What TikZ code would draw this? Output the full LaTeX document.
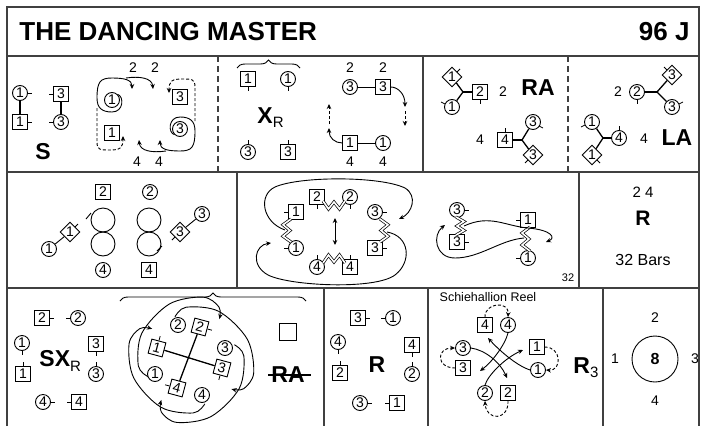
\documentclass[tikz,border=0pt]{standalone}
\usepackage{fontspec}
\setmainfont{Liberation Sans}
\usetikzlibrary{shapes.geometric,arrows.meta,decorations.pathreplacing,calc}
\newcommand\dfont{\fontsize{14}{14}\selectfont}
\newcommand\bfont{\fontsize{23}{23}\selectfont\bfseries}
\newcommand\subf{\fontsize{15}{15}\selectfont\mdseries}
\newcommand\mytick[2]{\draw[tk] (#1) -- ++(#2);}
\newcommand\hlinkk[4]{\draw[link] (#1,#3) -- ({#1+0.25*(#2-#1)},{#3+#4*8}) -- ({(#1+#2)/2},{#3+#4*1}) -- ({#1+0.75*(#2-#1)},{#3+#4*8}) -- (#2,#3);}
\newcommand\vlinkk[4]{\draw[link] (#3,#1) -- ({#3+#4*8},{#1+0.25*(#2-#1)}) -- ({#3+#4*1},{(#1+#2)/2}) -- ({#3+#4*8},{#1+0.75*(#2-#1)}) -- (#3,#2);}
\begin{document}
\begin{tikzpicture}[x=1pt,y=-1pt,line width=0.9pt,
  every node/.style={inner sep=0pt},
  pc/.style={circle,draw,minimum size=15pt,font=\dfont},
  ps/.style={rectangle,draw,minimum size=14.5pt,font=\dfont},
  pd/.style={diamond,draw,minimum size=20pt,font=\dfont},
  lbl/.style={font=\dfont},
  big/.style={font=\bfont},
  tk/.style={line width=0.8pt},
  jl/.style={line width=1.3pt},
  fr/.style={line width=1.6pt,draw=black!75},
  frd/.style={fr,dash pattern=on 6pt off 4pt},
  arr/.style={-{Stealth[length=5pt,width=4.5pt]}},
  darr/.style={arr,dash pattern=on 3pt off 2pt},
  link/.style={double,double distance=1.6pt,line width=0.7pt},
  brc/.style={decorate,decoration={brace,amplitude=8pt}},
]
\useasboundingbox (0,0) rectangle (701,426);
% frame
\draw[fr] (7,426) -- (7,7) -- (699,7) -- (699,426);
\draw[fr] (7,56) -- (699,56);
\draw[fr] (7,172) -- (699,172);
\draw[fr] (7,288) -- (699,288);
\draw[frd] (218,56) -- (218,172);
\draw[fr] (423,56) -- (423,172);
\draw[frd] (568,56) -- (568,172);
\draw[fr] (237,172) -- (237,288);
\draw[fr] (579,172) -- (579,288);
\draw[fr] (324,288) -- (324,426);
\draw[fr] (428,288) -- (428,426);
\draw[fr] (603,288) -- (603,426);
% title
\node[anchor=west,font=\fontsize{26}{26}\selectfont\bfseries] (title) at (19,32) {THE DANCING MASTER};
\node[anchor=east,font=\fontsize{26}{26}\selectfont\bfseries] (code) at (690,32) {96 J};

% ===== Row 1, cell 1 =====
\node[pc] (a1c) at (20,93) {1}; \mytick{a1c.east}{4,0}
\node[ps] (a3s) at (61,94) {3}; \mytick{a3s.west}{-4,0}
\node[ps] (a1s) at (20,122) {1}; \mytick{a1s.east}{4,0}
\node[pc] (a3c) at (61,122) {3}; \mytick{a3c.west}{-4,0}
\draw[jl] (a1c) -- (a1s);
\draw[jl] (a3s) -- (a3c);
\node[big] (lS) at (43,152) {S};

\node[lbl] (t2a) at (133,68) {2};
\node[lbl] (t2b) at (155,68) {2};
\node[lbl] (t4a) at (137,162) {4};
\node[lbl] (t4b) at (159,162) {4};
\node[pc] (b1c) at (112,100) {1};
\node[ps] (b1s) at (112,133) {1};
\node[pc] (b3c) at (180,129) {3};
\node[ps] (b3s) at (180,97) {3};
\draw[arr] (b1c.north east) .. controls (124,96) and (124,112) .. (112,112) .. controls (102,112) and (97,108) .. (97,98) .. controls (97,82) and (100,78) .. (112,78) .. controls (125,78) and (132,80) .. (132,89);
\draw[arr] (126,78) .. controls (140,76) and (152,78) .. (153,89);
\draw[darr] (97,108) -- (97,142) .. controls (97,150) and (100,150) .. (110,150) .. controls (120,150) and (123,148) .. (123,136);
\draw[arr] (b3c.south west) .. controls (168,133) and (168,117) .. (180,117) .. controls (190,117) and (195,121) .. (195,131) .. controls (195,147) and (192,151) .. (180,151) .. controls (167,151) and (160,149) .. (160,140);
\draw[arr] (166,151) .. controls (152,153) and (140,151) .. (139,140);
\draw[darr] (195,121) -- (195,87) .. controls (195,79) and (192,79) .. (182,79) .. controls (172,79) and (169,81) .. (169,93);

% ===== Row 1, cell 2 =====
\draw[brc] (237,68) -- (300,68);
\node[ps] (c1s) at (248,79) {1}; \mytick{c1s.south}{0,4}
\node[pc] (c1c) at (288,79) {1}; \mytick{c1c.south}{0,4}
\node[anchor=base west] (xr) at (257,123) {\bfont X\raisebox{-4pt}{\subf R}};
\node[pc] (c3c) at (248,152) {3}; \mytick{c3c.north}{0,-4}
\node[ps] (c3s) at (288,152) {3}; \mytick{c3s.north}{0,-4}

\node[lbl] (u2a) at (350,68) {2};
\node[lbl] (u2b) at (383,68) {2};
\node[pc] (d3c) at (350,87) {3};
\node[ps] (d3s) at (383,87) {3};
\draw (d3c) -- (d3s);
\draw[arr] (d3s.east) .. controls (398,87) and (405,94) .. (405,107);
\draw[darr] (405,111) -- (405,126);
\node[ps] (d1s) at (350,143) {1};
\node[pc] (d1c) at (383,143) {1};
\draw (d1s) -- (d1c);
\draw[arr] (d1s.west) .. controls (335,143) and (329,138) .. (329,128);
\draw[darr] (329,124) -- (329,104);
\node[lbl] (u4a) at (350,162) {4};
\node[lbl] (u4b) at (383,162) {4};

% ===== Row 1, cell 3 (RA) =====
\node[pd] (g1d) at (452,77) {1}; \draw[tk] ($(g1d.center)+(5,-5)$) -- ++(3,-3);
\node[pc] (g1c) at (452,107) {1}; \draw[tk] ($(g1c.center)+(-7,-3)$) -- ++(-4,-2);
\coordinate (j1) at (463,92);
\node[ps] (g2s) at (480,92) {2}; \mytick{g2s.south}{0,4}
\draw[jl] (g1d) -- (j1) -- (g1c);
\draw[jl] (j1) -- (g2s);
\node[lbl] (v2) at (503,92) {2};
\node[big] (RA) at (538,88) {RA};
\node[lbl] (v4) at (480,140) {4};
\node[ps] (g4s) at (505,140) {4}; \mytick{g4s.north}{0,-4}
\coordinate (j2) at (522,140);
\node[pc] (g3c) at (533,122) {3}; \draw[tk] ($(g3c.center)+(6,4)$) -- ++(4,2);
\node[pd] (g3d) at (533,155) {3}; \draw[tk] ($(g3d.center)+(-5,5)$) -- ++(-3,3);
\draw[jl] (g4s) -- (j2);
\draw[jl] (g3c) -- (j2) -- (g3d);

% ===== Row 1, cell 4 (LA) =====
\node[lbl] (w2) at (618,92) {2};
\node[pc] (h2c) at (637,92) {2}; \mytick{h2c.south}{0,4}
\coordinate (j3) at (657,92);
\node[pd] (h3d) at (672,75) {3}; \draw[tk] ($(h3d.center)+(-5,-5)$) -- ++(-3,-3);
\node[pc] (h3c) at (672,107) {3}; \draw[tk] ($(h3c.center)+(7,-3)$) -- ++(4,-2);
\draw[jl] (h2c) -- (j3);
\draw[jl] (h3d) -- (j3) -- (h3c);
\node[pc] (h1c) at (592,122) {1}; \draw[tk] ($(h1c.center)+(-7,3)$) -- ++(-4,2);
\node[pd] (h1d) at (592,155) {1}; \draw[tk] ($(h1d.center)+(5,5)$) -- ++(3,3);
\coordinate (j4) at (603,138);
\node[pc] (h4c) at (619,138) {4}; \mytick{h4c.north}{0,-4}
\draw[jl] (h1c) -- (j4) -- (h1d);
\draw[jl] (j4) -- (h4c);
\node[lbl] (w4) at (644,139) {4};
\node[big] (LA) at (677,138) {LA};

% ===== Row 2, cell 1 =====
\node[ps] (k2s) at (103,192) {2};
\node[pc] (k2c) at (150,192) {2};
\draw (103,220) circle (12);
\draw (103,244) circle (12);
\draw (149,220) circle (12);
\draw (149,244) circle (12);
\draw (86,219) -- (91,213);
\draw (157,251) -- (162,246);
\node[pd] (k1d) at (70,232) {1}; \draw[tk] ($(k1d.center)+(5,-5)$) -- ++(3,-3);
\node[pc] (k1c) at (49,249) {1};
\draw (k1d) -- (k1c);
\node[pd] (k3d) at (180,232) {3}; \draw[tk] ($(k3d.center)+(-5,5)$) -- ++(-3,3);
\node[pc] (k3c) at (202,214) {3};
\draw (k3d) -- (k3c);
\node[pc] (k4c) at (103,270) {4};
\node[ps] (k4s) at (149,270) {4};

% ===== Row 2, cell 2 =====
\node[ps] (n2s) at (317,197) {2}; \mytick{n2s.south}{0,4}
\node[pc] (n2c) at (350,197) {2}; \mytick{n2c.south}{0,4}
\node[ps] (n1s) at (296,212) {1}; \mytick{n1s.west}{-4,0}
\node[pc] (n1c) at (296,248) {1}; \mytick{n1c.west}{-4,0}
\node[pc] (n3c) at (375,212) {3}; \mytick{n3c.east}{4,0}
\node[ps] (n3s) at (375,248) {3}; \mytick{n3s.east}{4,0}
\node[pc] (n4c) at (317,267) {4}; \mytick{n4c.north}{0,-4}
\node[ps] (n4s) at (350,267) {4}; \mytick{n4s.north}{0,-4}
\hlinkk{323}{345}{201}{1}
\hlinkk{323}{345}{263}{-1}
\vlinkk{219}{242}{291}{-1}
\vlinkk{219}{242}{380}{1}
\coordinate (mid1) at (335,218);
\coordinate (mid2) at (335,245);
\draw[{Stealth[length=5pt,width=4.5pt]}-{Stealth[length=5pt,width=4.5pt]}] (mid1) -- (mid2);
\draw[arr] (285,230) .. controls (262,222) and (258,195) .. (275,187) .. controls (300,176) and (380,176) .. (405,188) .. controls (418,196) and (412,213) .. (399,219);
\draw[arr] (387,232) .. controls (410,236) and (412,262) .. (395,275) .. controls (375,290) and (290,286) .. (268,275) .. controls (250,265) and (255,245) .. (271,243);

\node[pc] (o3c) at (457,210) {3}; \mytick{o3c.east}{4,0}
\node[ps] (o3s) at (457,242) {3}; \mytick{o3s.east}{4,0}
\node[ps] (o1s) at (528,220) {1}; \mytick{o1s.west}{-4,0}
\node[pc] (o1c) at (528,258) {1}; \mytick{o1c.west}{-4,0}
\vlinkk{217}{235}{456}{1}
\vlinkk{227}{251}{530}{-1}
\draw[arr] (464,226) .. controls (490,214) and (505,226) .. (528,228) .. controls (552,230) and (556,238) .. (546,242);
\draw[arr] (524,238) .. controls (500,240) and (480,258) .. (455,258) .. controls (435,258) and (432,235) .. (445,225);
\node[font=\fontsize{11}{11}\selectfont] (n32) at (568,278) {32};

% ===== Row 2, cell 3 =====
\node[font=\fontsize{15}{15}\selectfont] (p24) at (643,192) {2 4};
\node[font=\fontsize{21}{21}\selectfont\bfseries] (pR) at (643,218) {R};
\node[font=\fontsize{16}{16}\selectfont] (pbars) at (643,260) {32 Bars};

% ===== Row 3, cell 1 =====
\node[ps] (m2s) at (42,318) {2}; \mytick{m2s.east}{4,0}
\node[pc] (m2c) at (78,318) {2}; \mytick{m2c.west}{-4,0}
\node[pc] (m1c) at (22,343) {1}; \mytick{m1c.south}{0,4}
\node[ps] (m1s) at (23,374) {1}; \mytick{m1s.north}{0,-4}
\node[ps] (m3s) at (96,344) {3}; \mytick{m3s.south}{0,4}
\node[pc] (m3c) at (96,374) {3}; \mytick{m3c.north}{0,-4}
\node[pc] (m4c) at (43,402) {4}; \mytick{m4c.east}{4,0}
\node[ps] (m4s) at (79,402) {4}; \mytick{m4s.west}{-4,0}
\node[anchor=base west] (sxr) at (39,366) {\bfont SX\raisebox{-5pt}{\subf R}};

\draw[brc] (120,301) -- (306,301);
\coordinate (C) at (191,360);
\node[pc] (e1) at (155,374) {1};
\node[pc] (e2) at (178,325) {2};
\node[pc] (e3) at (225,348) {3};
\node[pc] (e4) at (202,395) {4};
\node[ps,rotate=-15] (f1) at (157,348) {1};
\node[ps,rotate=-15] (f2) at (200,327) {2};
\node[ps,rotate=-15] (f3) at (222,368) {3};
\node[ps,rotate=-15] (f4) at (177,388) {4};
\draw[tk] (f1.north) -- ($(f1.center)!1.6!(f1.north)$);
\draw[tk] (f2.east) -- ($(f2.center)!1.6!(f2.east)$);
\draw[tk] (f3.south) -- ($(f3.center)!1.6!(f3.south)$);
\draw[tk] (f4.west) -- ($(f4.center)!1.6!(f4.west)$);
\draw[jl] (f1) -- (f3);
\draw[jl] (f2) -- (f4);
\begin{scope}[shift={(191,360)}]
\foreach \a in {158.7,249.6,340.6,72.6}{
  \draw[arr] plot[smooth,tension=0.55] coordinates {(\a:46) ({\a+15}:53) ({\a+50}:56) ({\a+90}:60) ({\a+122}:64) ({\a+139}:60) ({\a+146}:50)};
}
\end{scope}
\node[draw,line width=0.8pt,minimum size=17pt] (box) at (288,332) {};
\node[big] (RAx) at (288,375) {RA};
\draw[line width=1.3pt] (268,375) -- (311,375);

% ===== Row 3, cell 2 (R) =====
\node[ps] (q3s) at (358,318) {3}; \mytick{q3s.east}{4,0}
\node[pc] (q1c) at (393,318) {1}; \mytick{q1c.west}{-4,0}
\node[pc] (q4c) at (338,342) {4}; \mytick{q4c.south}{0,4}
\node[ps] (q2s) at (340,373) {2}; \mytick{q2s.north}{0,-4}
\node[ps] (q4s) at (412,345) {4}; \mytick{q4s.south}{0,4}
\node[pc] (q2c) at (412,374) {2}; \mytick{q2c.north}{0,-4}
\node[pc] (q3c) at (360,403) {3}; \mytick{q3c.east}{4,0}
\node[ps] (q1s) at (397,403) {1}; \mytick{q1s.west}{-4,0}
\node[big] (qR) at (377,365) {R};

% ===== Row 3, cell 3 (R3) =====
\node[font=\fontsize{12.5}{12.5}\selectfont] (schie) at (488,297) {Schiehallion Reel};
\node[ps] (r4s) at (485,325) {4};
\node[pc] (r4c) at (508,325) {4};
\node[pc] (r3c) at (463,348) {3};
\node[ps] (r3s) at (463,368) {3};
\node[ps] (r1s) at (537,347) {1};
\node[pc] (r1c) at (538,370) {1};
\node[pc] (r2c) at (485,393) {2};
\node[ps] (r2s) at (508,393) {2};
\draw[darr] (r4s.north) .. controls (484,303) and (509,300) .. (r4c.north);
\draw[darr] (r3s.west) .. controls (436,368) and (436,348) .. (r3c.west);
\draw[darr] (r1s.east) .. controls (562,347) and (562,371) .. (r1c.east);
\draw[darr] (r2s.south) .. controls (509,421) and (486,421) .. (r2c.south);
\draw[arr] (r4c.south) .. controls (505,345) and (492,362) .. (480,371);
\draw[arr] (r3c.east) .. controls (485,350) and (500,362) .. (507,378);
\draw[arr] (r1c.west) .. controls (515,365) and (497,348) .. (488,338);
\draw[arr] (r2c.north) .. controls (488,375) and (505,358) .. (523,350);
\node[anchor=base west] (R3) at (573,373) {\bfont R\raisebox{-4pt}{\subf 3}};

% ===== Row 3, cell 4 =====
\node[lbl] (z2) at (655,318) {2};
\node[lbl] (z1) at (615,359) {1};
\node[lbl] (z3) at (695,359) {3};
\node[lbl] (z4) at (655,401) {4};
\node[circle,draw,minimum size=46pt,font=\fontsize{16}{16}\selectfont\bfseries] (eight) at (655,359) {8};
\end{tikzpicture}
\end{document}
